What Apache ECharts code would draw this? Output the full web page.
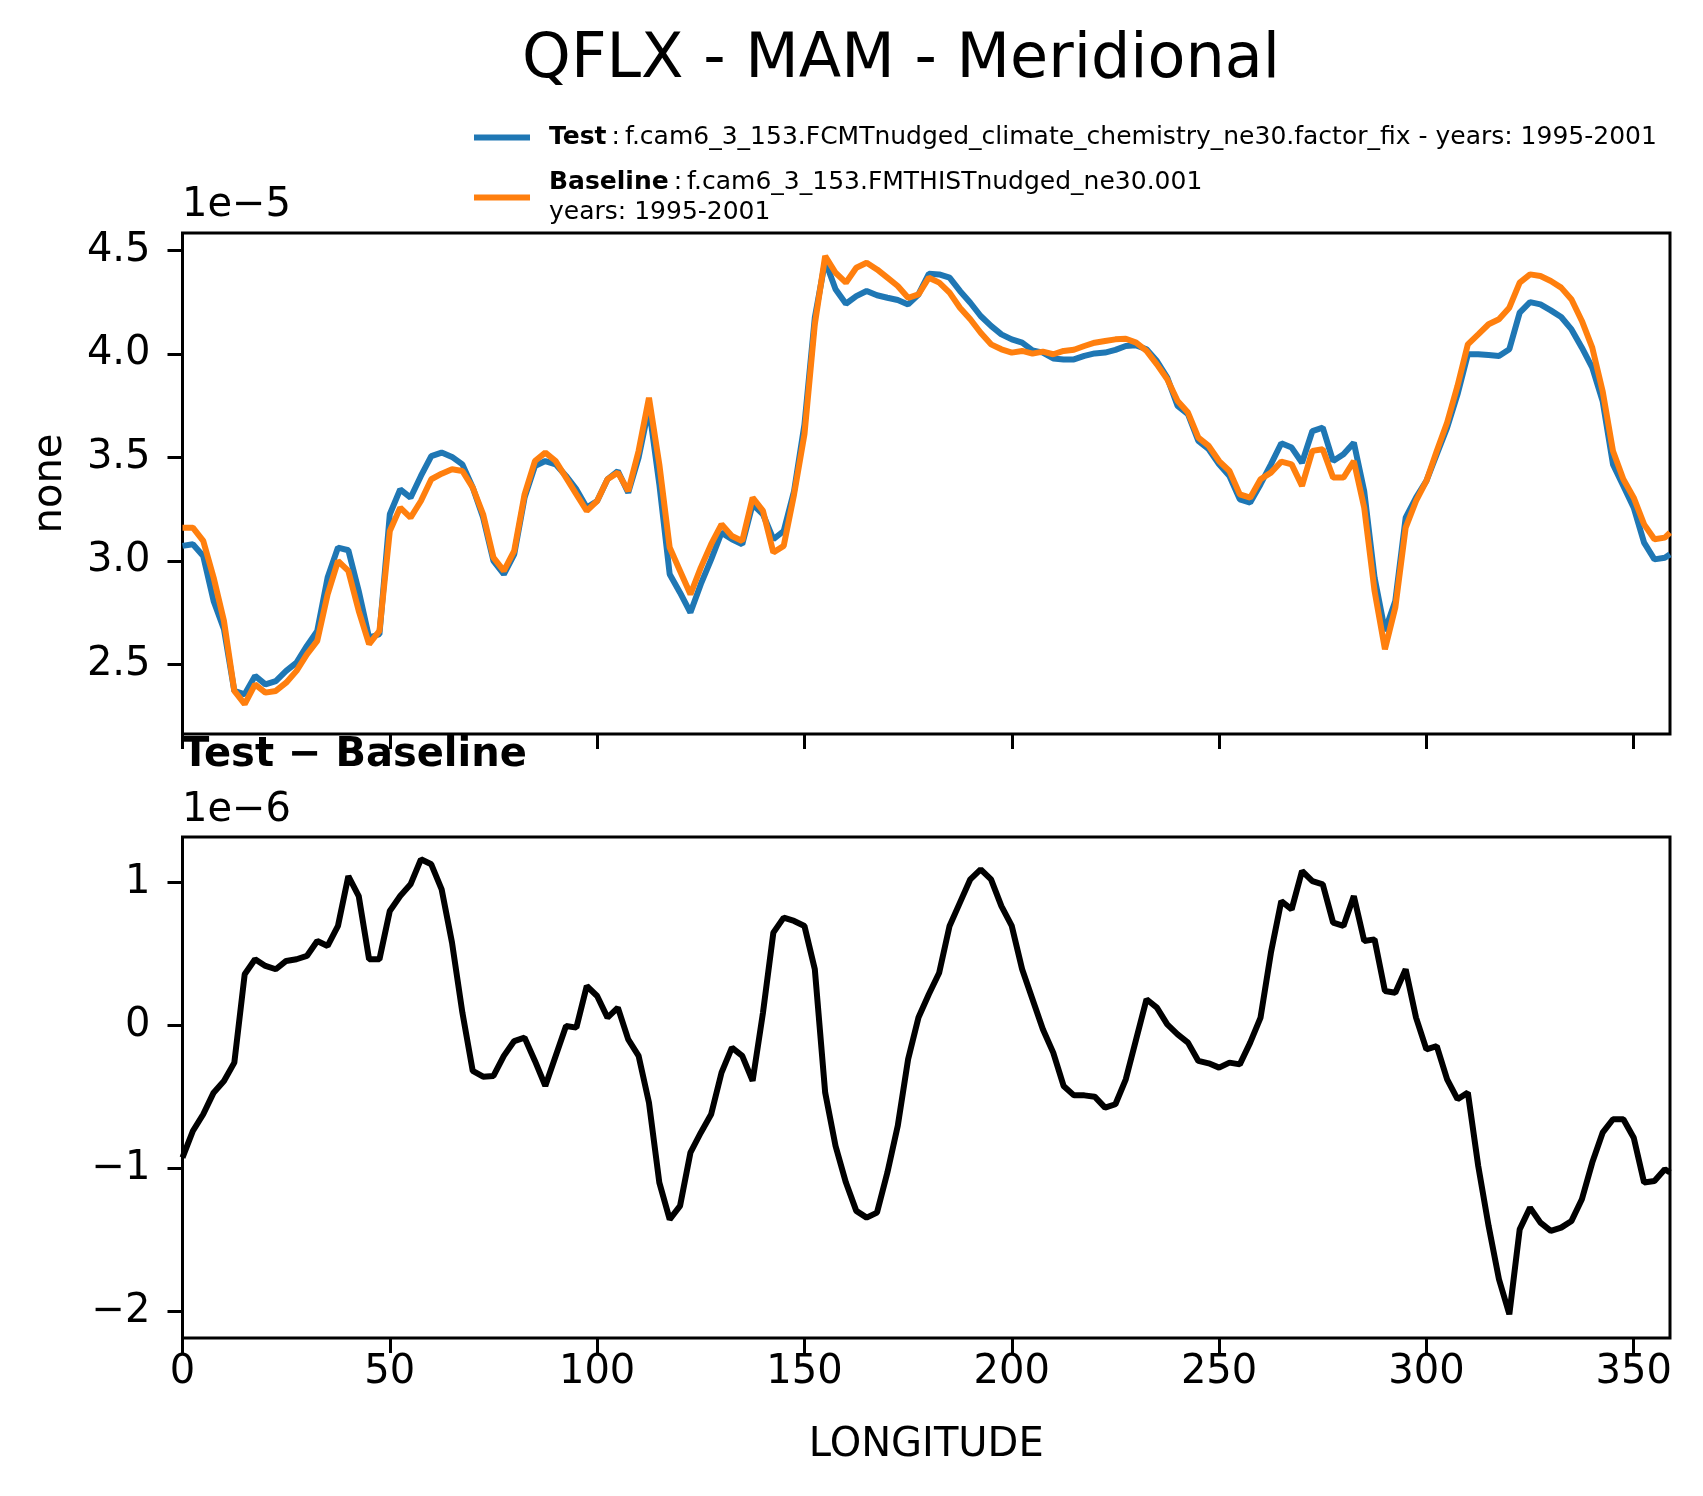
<!DOCTYPE html>
<html>
<head>
<meta charset="utf-8">
<title>QFLX - MAM - Meridional</title>
<script src="https://cdn.jsdelivr.net/npm/echarts@6.0.0/dist/echarts.min.js"></script>
<style>
  html, body { margin: 0; padding: 0; background: #fff; }
  #chart { width: 1703px; height: 1496px; }
</style>
</head>
<body>
<div id="chart"></div>
<script>
// longitude grid (degrees east), 2.5 deg steps plus the last point
var LON = [
  0, 2.5, 5, 7.5, 10, 12.5, 15, 17.5, 20, 22.5,
  25, 27.5, 30, 32.5, 35, 37.5, 40, 42.5, 45, 47.5,
  50, 52.5, 55, 57.5, 60, 62.5, 65, 67.5, 70, 72.5,
  75, 77.5, 80, 82.5, 85, 87.5, 90, 92.5, 95, 97.5,
  100, 102.5, 105, 107.5, 110, 112.5, 115, 117.5, 120, 122.5,
  125, 127.5, 130, 132.5, 135, 137.5, 140, 142.5, 145, 147.5,
  150, 152.5, 155, 157.5, 160, 162.5, 165, 167.5, 170, 172.5,
  175, 177.5, 180, 182.5, 185, 187.5, 190, 192.5, 195, 197.5,
  200, 202.5, 205, 207.5, 210, 212.5, 215, 217.5, 220, 222.5,
  225, 227.5, 230, 232.5, 235, 237.5, 240, 242.5, 245, 247.5,
  250, 252.5, 255, 257.5, 260, 262.5, 265, 267.5, 270, 272.5,
  275, 277.5, 280, 282.5, 285, 287.5, 290, 292.5, 295, 297.5,
  300, 302.5, 305, 307.5, 310, 312.5, 315, 317.5, 320, 322.5,
  325, 327.5, 330, 332.5, 335, 337.5, 340, 342.5, 345, 347.5,
  350, 352.5, 355, 357.5, 358.75
];

// QFLX, units of 1e-5
var TEST = [
  3.072, 3.080, 3.023, 2.806, 2.669, 2.371, 2.355, 2.444, 2.403, 2.419,
  2.468, 2.508, 2.589, 2.661, 2.919, 3.064, 3.051, 2.854, 2.629, 2.645,
  3.225, 3.345, 3.305, 3.410, 3.506, 3.523, 3.502, 3.466, 3.354, 3.209,
  2.999, 2.935, 3.031, 3.305, 3.458, 3.482, 3.466, 3.410, 3.345, 3.257,
  3.289, 3.394, 3.434, 3.329, 3.498, 3.740, 3.370, 2.935, 2.846, 2.750,
  2.887, 3.007, 3.136, 3.104, 3.080, 3.273, 3.225, 3.104, 3.144, 3.337,
  3.659, 4.175, 4.449, 4.312, 4.242, 4.279, 4.304, 4.283, 4.271, 4.260,
  4.239, 4.287, 4.387, 4.384, 4.368, 4.304, 4.247, 4.183, 4.135, 4.094,
  4.070, 4.054, 4.017, 4.006, 3.978, 3.973, 3.973, 3.990, 4.002, 4.006,
  4.019, 4.038, 4.041, 4.022, 3.965, 3.885, 3.748, 3.708, 3.579, 3.539,
  3.466, 3.410, 3.297, 3.281, 3.370, 3.466, 3.568, 3.547, 3.474, 3.627,
  3.643, 3.482, 3.515, 3.571, 3.337, 2.919, 2.661, 2.806, 3.209, 3.305,
  3.386, 3.515, 3.643, 3.804, 3.998, 3.998, 3.994, 3.990, 4.022, 4.199,
  4.250, 4.239, 4.210, 4.178, 4.118, 4.030, 3.933, 3.772, 3.466, 3.362,
  3.257, 3.088, 3.007, 3.015, 3.031
];

var BASELINE = [
  3.160, 3.160, 3.096, 2.919, 2.709, 2.371, 2.307, 2.403, 2.363, 2.371,
  2.411, 2.468, 2.548, 2.613, 2.838, 2.999, 2.951, 2.758, 2.597, 2.661,
  3.144, 3.257, 3.209, 3.289, 3.394, 3.421, 3.442, 3.434, 3.354, 3.225,
  3.015, 2.951, 3.048, 3.321, 3.482, 3.523, 3.482, 3.402, 3.321, 3.241,
  3.289, 3.394, 3.426, 3.337, 3.531, 3.788, 3.466, 3.064, 2.951, 2.838,
  2.967, 3.080, 3.176, 3.120, 3.096, 3.305, 3.241, 3.040, 3.072, 3.321,
  3.611, 4.143, 4.473, 4.392, 4.344, 4.416, 4.440, 4.408, 4.368, 4.328,
  4.271, 4.287, 4.368, 4.344, 4.296, 4.223, 4.167, 4.102, 4.046, 4.022,
  4.006, 4.014, 4.001, 4.011, 3.998, 4.014, 4.020, 4.038, 4.054, 4.062,
  4.070, 4.073, 4.054, 4.014, 3.949, 3.877, 3.772, 3.716, 3.595, 3.555,
  3.482, 3.434, 3.321, 3.305, 3.394, 3.426, 3.479, 3.466, 3.362, 3.531,
  3.539, 3.402, 3.402, 3.482, 3.257, 2.854, 2.573, 2.774, 3.160, 3.289,
  3.386, 3.531, 3.668, 3.845, 4.046, 4.094, 4.143, 4.167, 4.223, 4.344,
  4.384, 4.376, 4.352, 4.320, 4.263, 4.159, 4.030, 3.820, 3.531, 3.394,
  3.305, 3.176, 3.104, 3.112, 3.136
];

// Test - Baseline, units of 1e-6
var DIFF = [
  -0.925, -0.739, -0.622, -0.471, -0.389, -0.261, 0.357, 0.462, 0.415, 0.392,
  0.450, 0.462, 0.485, 0.590, 0.555, 0.695, 1.044, 0.904, 0.462, 0.462,
  0.800, 0.904, 0.986, 1.161, 1.126, 0.951, 0.578, 0.089, -0.319, -0.359,
  -0.354, -0.214, -0.110, -0.086, -0.249, -0.424, -0.214, -0.005, -0.016, 0.275,
  0.205, 0.054, 0.124, -0.098, -0.214, -0.541, -1.100, -1.357, -1.263, -0.890,
  -0.751, -0.622, -0.331, -0.156, -0.214, -0.389, 0.089, 0.648, 0.753, 0.730,
  0.695, 0.392, -0.471, -0.844, -1.100, -1.298, -1.345, -1.310, -1.030, -0.704,
  -0.238, 0.054, 0.217, 0.368, 0.695, 0.858, 1.021, 1.091, 1.021, 0.834,
  0.695, 0.392, 0.182, -0.028, -0.191, -0.424, -0.490, -0.490, -0.499, -0.576,
  -0.552, -0.378, -0.098, 0.182, 0.124, 0.007, -0.063, -0.121, -0.249, -0.266,
  -0.296, -0.261, -0.273, -0.121, 0.054, 0.508, 0.869, 0.811, 1.079, 1.009,
  0.986, 0.718, 0.695, 0.904, 0.590, 0.601, 0.240, 0.228, 0.392, 0.054,
  -0.168, -0.145, -0.378, -0.517, -0.471, -0.984, -1.403, -1.776, -2.021, -1.427,
  -1.275, -1.380, -1.438, -1.415, -1.368, -1.217, -0.960, -0.751, -0.657, -0.657,
  -0.786, -1.100, -1.089, -1.007, -1.030
];

var X_TICKS = [0, 50, 100, 150, 200, 250, 300, 350];
var TOP_TICKS = [2.5, 3.0, 3.5, 4.0, 4.5];
var DIFF_TICKS = [-2, -1, 0, 1];

var LEGEND_TEXT = {
  'Test': '{b|Test}{n|\u2009:\u2009f.cam6_3_153.FCMTnudged_climate_chemistry_ne30.factor_fix - years: 1995-2001}',
  'Baseline': '{b|Baseline}{n|\u2009:\u2009f.cam6_3_153.FMTHISTnudged_ne30.001}\n{n|years: 1995-2001}'
};

var FONT = 'DejaVu Sans';

function pairs(xs, ys) {
  return xs.map(function (x, i) { return [x, ys[i]]; });
}

function minusSign(v) {
  return v < 0 ? '\u2212' + (-v) : String(v);
}

var tickStyle = { show: true, length: 15, lineStyle: { color: '#000', width: 3 } };
var labelStyle = { color: '#000', fontSize: 40, fontFamily: FONT };
var noLine = { show: false, onZero: false };

var chart = echarts.init(document.getElementById('chart'), null, { renderer: 'canvas' });

var option = {
  backgroundColor: '#fff',
  animation: false,
  grid: [
    { left: 182.5, top: 233, width: 1487.5, height: 501, show: true, borderColor: '#000', borderWidth: 3 },
    { left: 182.5, top: 837, width: 1487.5, height: 501, show: true, borderColor: '#000', borderWidth: 3 }
  ],
  legend: {
    orient: 'vertical',
    left: 469,
    top: 120,
    itemWidth: 56,
    itemHeight: 6,
    itemGap: 20,
    icon: 'rect',
    selectedMode: false,
    data: ['Test', 'Baseline'],
    formatter: function (name) { return LEGEND_TEXT[name]; },
    textStyle: {
      color: '#000',
      fontFamily: FONT,
      fontSize: 25,
      padding: [0, 0, 0, 14],
      rich: {
        b: { fontFamily: FONT, fontSize: 25, fontWeight: 'bold', lineHeight: 30, color: '#000' },
        n: { fontFamily: FONT, fontSize: 25, lineHeight: 30, color: '#000' }
      }
    }
  },
  xAxis: [
    {
      gridIndex: 0, type: 'value', min: 0, max: 358.75,
      axisLine: noLine,
      axisTick: Object.assign({ customValues: X_TICKS }, tickStyle),
      axisLabel: { show: false },
      splitLine: { show: false }
    },
    {
      gridIndex: 1, type: 'value', min: 0, max: 358.75,
      name: 'LONGITUDE', nameLocation: 'middle', nameGap: 88,
      nameTextStyle: { color: '#000', fontSize: 40, fontFamily: FONT },
      axisLine: noLine,
      axisTick: Object.assign({ customValues: X_TICKS }, tickStyle),
      axisLabel: Object.assign({ customValues: X_TICKS, margin: 15 }, labelStyle),
      splitLine: { show: false }
    }
  ],
  yAxis: [
    {
      gridIndex: 0, type: 'value', min: 2.163, max: 4.584,
      name: 'none', nameLocation: 'middle', nameGap: 112,
      nameTextStyle: { color: '#000', fontSize: 40, fontFamily: FONT },
      axisLine: noLine,
      axisTick: Object.assign({ customValues: TOP_TICKS }, tickStyle),
      axisLabel: Object.assign({
        customValues: TOP_TICKS, margin: 32,
        formatter: function (v) { return v.toFixed(1); }
      }, labelStyle),
      splitLine: { show: false }
    },
    {
      gridIndex: 1, type: 'value', min: -2.187, max: 1.317,
      axisLine: noLine,
      axisTick: Object.assign({ customValues: DIFF_TICKS }, tickStyle),
      axisLabel: Object.assign({ customValues: DIFF_TICKS, margin: 32, formatter: minusSign }, labelStyle),
      splitLine: { show: false }
    }
  ],
  series: [
    {
      name: 'Test', type: 'line', xAxisIndex: 0, yAxisIndex: 0,
      data: pairs(LON, TEST), showSymbol: false, symbol: 'none',
      color: '#1f77b4', lineStyle: { color: '#1f77b4', width: 6 }
    },
    {
      name: 'Baseline', type: 'line', xAxisIndex: 0, yAxisIndex: 0,
      data: pairs(LON, BASELINE), showSymbol: false, symbol: 'none',
      color: '#ff7f0e', lineStyle: { color: '#ff7f0e', width: 6 }
    },
    {
      name: 'Test - Baseline', type: 'line', xAxisIndex: 1, yAxisIndex: 1,
      data: pairs(LON, DIFF), showSymbol: false, symbol: 'none',
      color: '#000', lineStyle: { color: '#000', width: 6 }
    }
  ],
  graphic: [
    {
      type: 'text', x: 901, y: 61,
      style: { text: 'QFLX - MAM - Meridional', fontFamily: FONT, fontSize: 62, fill: '#000', align: 'center', verticalAlign: 'middle' }
    },
    {
      type: 'text', x: 182, y: 206,
      style: { text: '1e\u22125', fontFamily: FONT, fontSize: 40, fill: '#000', align: 'left', verticalAlign: 'middle' }
    },
    {
      type: 'text', x: 182, y: 756,
      style: { text: 'Test \u2212 Baseline', fontFamily: FONT, fontSize: 40, fontWeight: 'bold', fill: '#000', align: 'left', verticalAlign: 'middle' }
    },
    {
      type: 'text', x: 182, y: 811,
      style: { text: '1e\u22126', fontFamily: FONT, fontSize: 40, fill: '#000', align: 'left', verticalAlign: 'middle' }
    }
  ]
};

chart.setOption(option);
</script>
</body>
</html>
